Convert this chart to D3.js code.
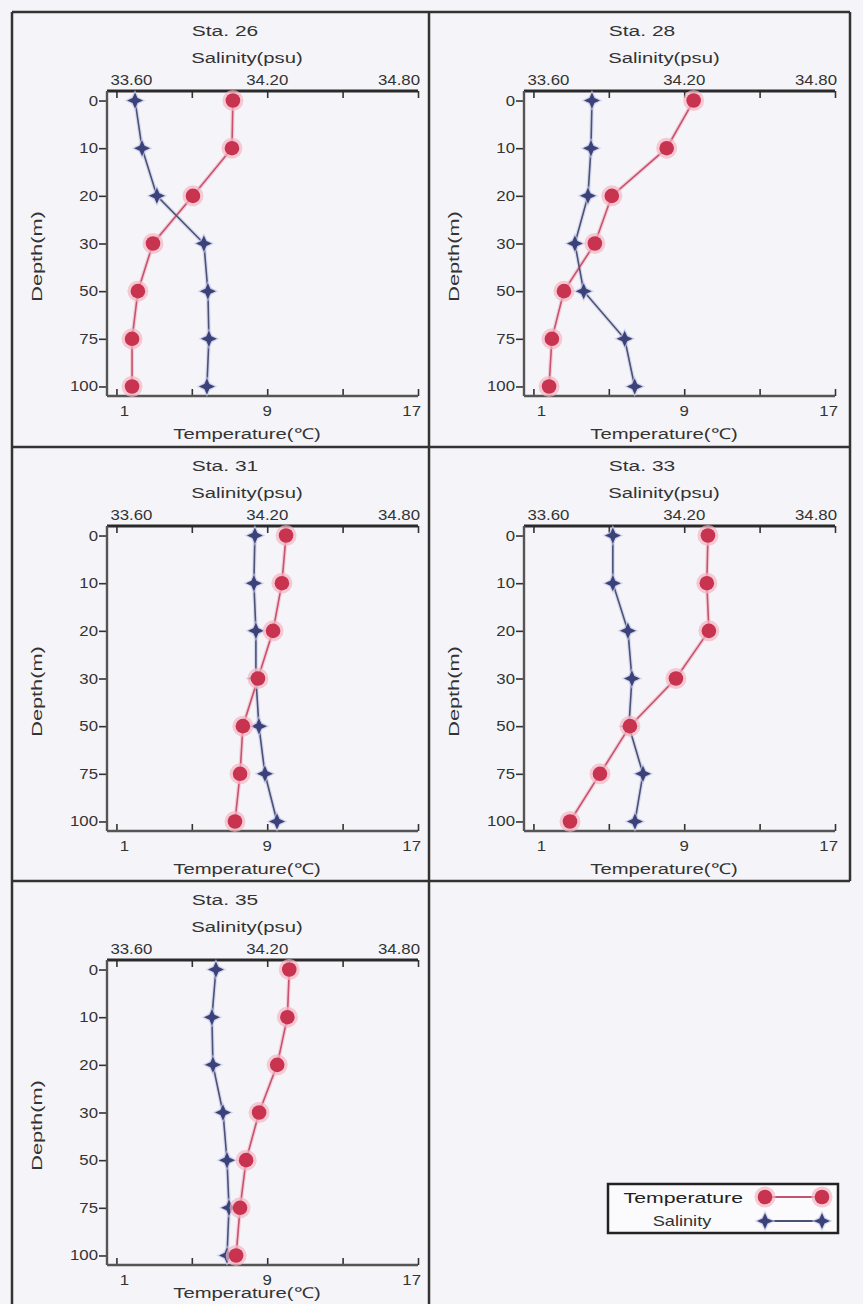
<!DOCTYPE html>
<html>
<head>
<meta charset="utf-8">
<script src="https://cdn.jsdelivr.net/npm/d3@7"></script>
<style>
  html, body { margin: 0; padding: 0; background: #f5f5f9; }
  svg { display: block; }
  text { font-family: "Liberation Sans", Arial, sans-serif; fill: #333; }
</style>
</head>
<body>
<script>
// Vertical profiles of temperature and salinity at five stations
const depths = ["0", "10", "20", "30", "50", "75", "100"];
const stations = ["Sta. 26", "Sta. 28", "Sta. 31", "Sta. 33", "Sta. 35"];

const temp26 = [7.18, 7.13, 5.06, 2.94, 2.14, 1.83, 1.83];
const sal26  = [33.674, 33.702, 33.761, 33.948, 33.964, 33.968, 33.960];
const temp28 = [9.50, 8.07, 5.16, 4.26, 2.62, 1.98, 1.83];
const sal28  = [33.833, 33.829, 33.817, 33.765, 33.800, 33.963, 34.003];
const temp31 = [10.00, 9.78, 9.31, 8.51, 7.71, 7.56, 7.29];
const sal31  = [34.151, 34.147, 34.155, 34.155, 34.167, 34.191, 34.239];
const temp33 = [10.26, 10.20, 10.31, 8.56, 6.12, 4.53, 2.94];
const sal33  = [33.916, 33.916, 33.976, 33.992, 33.980, 34.036, 34.004];
const temp35 = [10.17, 10.07, 9.53, 8.57, 7.88, 7.56, 7.35];
const sal35  = [33.996, 33.980, 33.984, 34.024, 34.040, 34.048, 34.040];

const tempTicks = [1, 5, 9, 13, 17];
const tempTickLabels = ["1", "", "9", "", "17"];
const salTicks = [33.60, 33.90, 34.20, 34.50, 34.80];
const salTickLabels = ["33.60", "", "34.20", "", "34.80"];

const tempDomain = [0.5, 17];
const salDomain = [33.5625, 34.80];

const profiles = [
  { name: stations[0], temp: temp26, sal: sal26 },
  { name: stations[1], temp: temp28, sal: sal28 },
  { name: stations[2], temp: temp31, sal: sal31 },
  { name: stations[3], temp: temp33, sal: sal33 },
  { name: stations[4], temp: temp35, sal: sal35 }
];

const W = 863, H = 1304;
const colX = [12, 429], rowY = [12, 447, 881], rightX = 850;
const RED = "#c8334f", RED_LINE = "#c65470", RED_HALO = "#f3b6c3";
const BLUE = "#3b4179", BLUE_LINE = "#4c5274", BLUE_HALO = "#c3c6e6";
const INK = "#333";

const svg = d3.select("body").append("svg")
  .attr("width", W).attr("height", H);

svg.append("rect").attr("width", W).attr("height", H).attr("fill", "#f5f5f9");

// Four-pointed star marker
function star4(R, r) {
  const pts = [];
  for (let i = 0; i < 8; i++) {
    const a = -Math.PI / 2 + i * Math.PI / 4;
    const rad = i % 2 === 0 ? R : r;
    pts.push([Math.cos(a) * rad, Math.sin(a) * rad]);
  }
  return "M" + pts.map(p => p[0].toFixed(2) + "," + p[1].toFixed(2)).join("L") + "Z";
}

// Horizontally widened text label
function label(g, x, y, str, opt = {}) {
  const t = g.append("text")
    .attr("transform", `translate(${x},${y}) rotate(${opt.rotate || 0}) scale(${opt.sx || 1.25},1)`)
    .attr("text-anchor", opt.anchor || "middle")
    .attr("font-size", opt.size || 14)
    .text(str);
  if (opt.weight) t.attr("font-weight", opt.weight);
  if (opt.fill) t.style("fill", opt.fill);
  return t;
}

function drawRedMarker(g, x, y) {
  g.append("circle").attr("cx", x).attr("cy", y).attr("r", 10.5).attr("fill", RED_HALO).attr("opacity", 0.7);
  g.append("circle").attr("cx", x).attr("cy", y).attr("r", 7.3).attr("fill", RED);
}
function drawBlueMarker(g, x, y) {
  g.append("path").attr("transform", `translate(${x},${y})`).attr("d", star4(10.5, 5))
    .attr("fill", BLUE_HALO).attr("opacity", 0.7);
  g.append("path").attr("transform", `translate(${x},${y})`).attr("d", star4(8, 3.5))
    .attr("fill", BLUE);
}

// Panel frames
const frame = svg.append("g").attr("stroke", INK).attr("stroke-width", 2.5).attr("fill", "none");
frame.append("line").attr("x1", colX[0]).attr("x2", rightX).attr("y1", rowY[0]).attr("y2", rowY[0]);
frame.append("line").attr("x1", colX[0]).attr("x2", rightX).attr("y1", rowY[1]).attr("y2", rowY[1]);
frame.append("line").attr("x1", colX[0]).attr("x2", rightX).attr("y1", rowY[2]).attr("y2", rowY[2]);
frame.append("line").attr("x1", colX[0]).attr("x2", colX[0]).attr("y1", rowY[0]).attr("y2", H);
frame.append("line").attr("x1", colX[1]).attr("x2", colX[1]).attr("y1", rowY[0]).attr("y2", H);
frame.append("line").attr("x1", rightX).attr("x2", rightX).attr("y1", rowY[0]).attr("y2", rowY[2]);

const PW = 311, PH = 305;

profiles.forEach((p, i) => {
  const cx = colX[i % 2], cy = rowY[Math.floor(i / 2)];
  const left = cx + 95, top = cy + 79;
  const g = svg.append("g");

  const x = d3.scaleLinear().domain(tempDomain).range([left, left + PW]);
  const xs = d3.scaleLinear().domain(salDomain).range([left, left + PW]);
  const y = d3.scalePoint().domain(depths).range([top, top + PH]).padding(0.2);

  // Titles
  label(g, cx + 213, cy + 24, p.name, { size: 15, sx: 1.4 });
  label(g, cx + 235, cy + 51, "Salinity(psu)", { size: 15, sx: 1.35 });
  label(g, cx + 235, Math.min(cy + 427, H - 6), "Temperature(\u2103)", { size: 15, sx: 1.35 });
  label(g, cx + 30, top + PH / 2 + 13, "Depth(m)", { size: 15, sx: 1.45, rotate: -90 });

  // Top salinity axis
  const topAxis = d3.axisTop(xs).tickValues(salTicks).tickSize(-7).tickFormat("");
  const ta = g.append("g").attr("transform", `translate(0,${top})`).call(topAxis);
  ta.select(".domain").remove();
  ta.selectAll(".tick line").attr("stroke", INK).attr("stroke-width", 1.6);
  salTicks.forEach((v, k) => {
    if (!salTickLabels[k]) return;
    const anchor = k === 0 ? "start" : (k === salTicks.length - 1 ? "end" : "middle");
    const dx = k === 0 ? -6 : (k === salTicks.length - 1 ? 2 : 0);
    label(g, xs(v) + dx, top - 6, salTickLabels[k], { size: 14, sx: 1.2, anchor });
  });

  // Bottom temperature axis
  const botAxis = d3.axisBottom(x).tickValues(tempTicks).tickSize(-7).tickFormat("");
  const ba = g.append("g").attr("transform", `translate(0,${top + PH})`).call(botAxis);
  ba.select(".domain").remove();
  ba.selectAll(".tick line").attr("stroke", INK).attr("stroke-width", 1.6);
  tempTicks.forEach((v, k) => {
    if (!tempTickLabels[k]) return;
    const anchor = k === tempTicks.length - 1 ? "end" : "middle";
    const dx = k === 0 ? 8 : (k === tempTicks.length - 1 ? 3 : 0);
    label(g, x(v) + dx, top + PH + 20, tempTickLabels[k], { size: 14, sx: 1.2, anchor });
  });

  // Left depth axis
  const leftAxis = d3.axisLeft(y).tickSize(8).tickFormat("");
  const la = g.append("g").attr("transform", `translate(${left},0)`).call(leftAxis);
  la.select(".domain").remove();
  la.selectAll(".tick line").attr("stroke", INK).attr("stroke-width", 1.6);
  depths.forEach(d => {
    label(g, left - 9, y(d) + 5, d, { size: 14, sx: 1.2, anchor: "end" });
  });

  // Spines: top, bottom, left
  g.append("line").attr("x1", left).attr("x2", left + PW).attr("y1", top).attr("y2", top)
    .attr("stroke", "#2a2a2a").attr("stroke-width", 2.8);
  g.append("line").attr("x1", left).attr("x2", left + PW).attr("y1", top + PH).attr("y2", top + PH)
    .attr("stroke", "#555").attr("stroke-width", 2.4);
  g.append("line").attr("x1", left).attr("x2", left).attr("y1", top).attr("y2", top + PH)
    .attr("stroke", "#555").attr("stroke-width", 2.4);

  // Profiles
  const tempPts = depths.map((d, k) => [x(p.temp[k]), y(d)]);
  const salPts = depths.map((d, k) => [xs(p.sal[k]), y(d)]);
  const line = d3.line();

  g.append("path").attr("d", line(tempPts)).attr("fill", "none")
    .attr("stroke", RED_HALO).attr("stroke-width", 4).attr("opacity", 0.6);
  g.append("path").attr("d", line(salPts)).attr("fill", "none")
    .attr("stroke", BLUE_HALO).attr("stroke-width", 4).attr("opacity", 0.6);
  g.append("path").attr("d", line(tempPts)).attr("fill", "none")
    .attr("stroke", RED_LINE).attr("stroke-width", 1.6);
  g.append("path").attr("d", line(salPts)).attr("fill", "none")
    .attr("stroke", BLUE_LINE).attr("stroke-width", 1.6);

  salPts.forEach(pt => drawBlueMarker(g, pt[0], pt[1]));
  tempPts.forEach(pt => drawRedMarker(g, pt[0], pt[1]));
});

// Legend
const lg = svg.append("g");
lg.append("rect").attr("x", 608).attr("y", 1184).attr("width", 230).attr("height", 49)
  .attr("fill", "#fbfbfd").attr("stroke", "#222").attr("stroke-width", 2.5);
label(lg, 743, 1203, "Temperature", { size: 15, sx: 1.42, anchor: "end", fill: "#222" });
label(lg, 682, 1226, "Salinity", { size: 14, sx: 1.3, anchor: "middle", fill: "#333" });
lg.append("line").attr("x1", 765).attr("x2", 822).attr("y1", 1197).attr("y2", 1197)
  .attr("stroke", RED_LINE).attr("stroke-width", 2);
lg.append("line").attr("x1", 765).attr("x2", 822).attr("y1", 1221).attr("y2", 1221)
  .attr("stroke", BLUE_LINE).attr("stroke-width", 2);
drawRedMarker(lg, 765, 1197);
drawRedMarker(lg, 822, 1197);
drawBlueMarker(lg, 765, 1221);
drawBlueMarker(lg, 822, 1221);
</script>
</body>
</html>
